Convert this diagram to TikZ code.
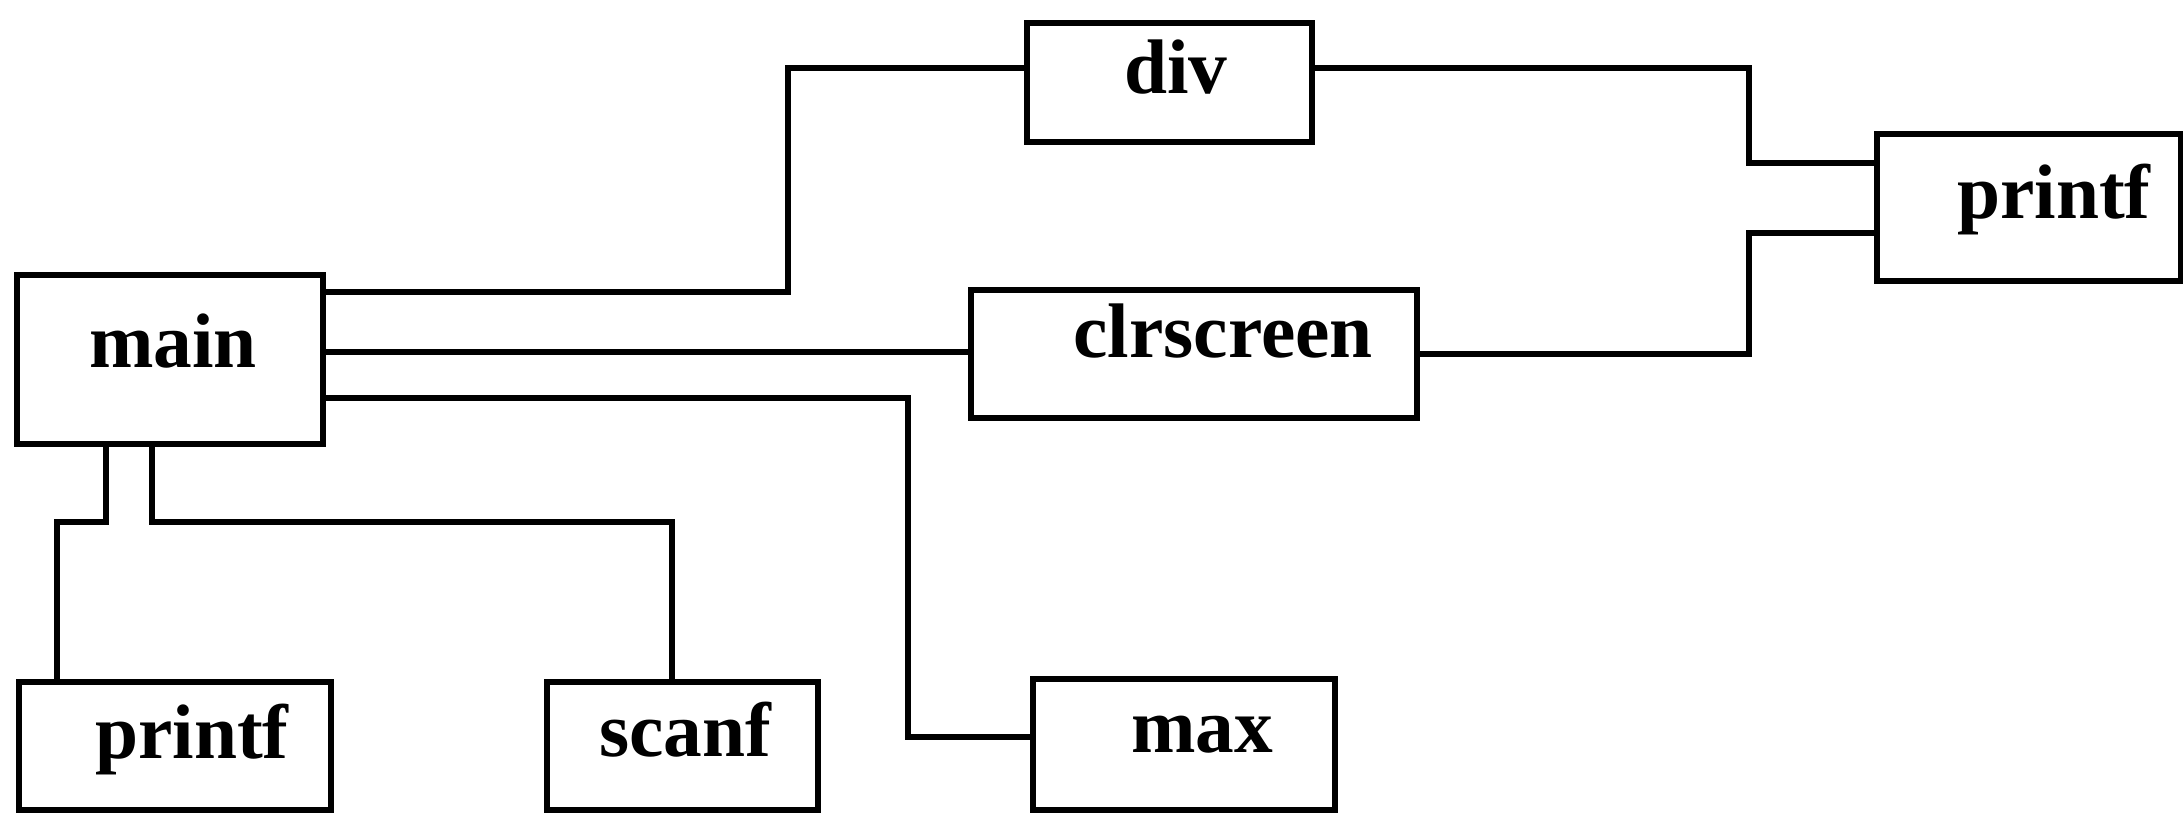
\documentclass[tikz,border=0pt]{standalone}
\usepackage{fontspec}
\setmainfont{Liberation Serif}
\begin{document}
\begin{tikzpicture}[x=0.01cm,y=-0.01cm,
  box/.style={draw, line width=1.9pt, inner sep=0pt},
  lbl/.style={anchor=base, inner sep=0pt, font=\fontsize{22pt}{26pt}\selectfont\bfseries},
  wire/.style={line width=1.9pt, line join=miter}]
\useasboundingbox (0,0) rectangle (2183,815);

% function boxes
\node[box, minimum width=3.06cm, minimum height=1.69cm] (main)    at (170,359.5)  {};
\node[box, minimum width=2.85cm, minimum height=1.19cm] (div)     at (1169.5,82.5) {};
\node[box, minimum width=4.46cm, minimum height=1.28cm] (clr)     at (1194,354)   {};
\node[box, minimum width=3.04cm, minimum height=1.47cm] (printfR) at (2029,207.5) {};
\node[box, minimum width=3.12cm, minimum height=1.28cm] (printfL) at (175,746)    {};
\node[box, minimum width=2.71cm, minimum height=1.28cm] (scanf)   at (682.5,746)  {};
\node[box, minimum width=3.02cm, minimum height=1.31cm] (max)     at (1184,744.5) {};

% box captions
\node[lbl] (mainT)    at (173,367)  {main};
\node[lbl] (divT)     at (1176,93)  {div};
\node[lbl] (clrT)     at (1223,357) {clrscreen};
\node[lbl] (printfRT) at (2054,218) {printf};
\node[lbl] (printfLT) at (192,758)  {printf};
\node[lbl] (scanfT)   at (685,756)  {scanf};
\node[lbl] (maxT)     at (1202,752) {max};

% calls made by main
\draw[wire] (main.east |- 0,292) -| (788,68) -- (div.west |- 0,68);
\draw[wire] (main.east |- 0,352) -- (clr.west |- 0,352);
\draw[wire] (main.east |- 0,398) -| (908,737) -- (max.west |- 0,737);
\draw[wire] (106,0 |- main.south) |- (57,522) -- (57,0 |- printfL.north);
\draw[wire] (152,0 |- main.south) |- (672,522) -- (672,0 |- scanf.north);

% calls to printf
\draw[wire] (div.east |- 0,68) -| (1749,163) -- (printfR.west |- 0,163);
\draw[wire] (clr.east |- 0,354) -| (1749,233) -- (printfR.west |- 0,233);
\end{tikzpicture}
\end{document}
